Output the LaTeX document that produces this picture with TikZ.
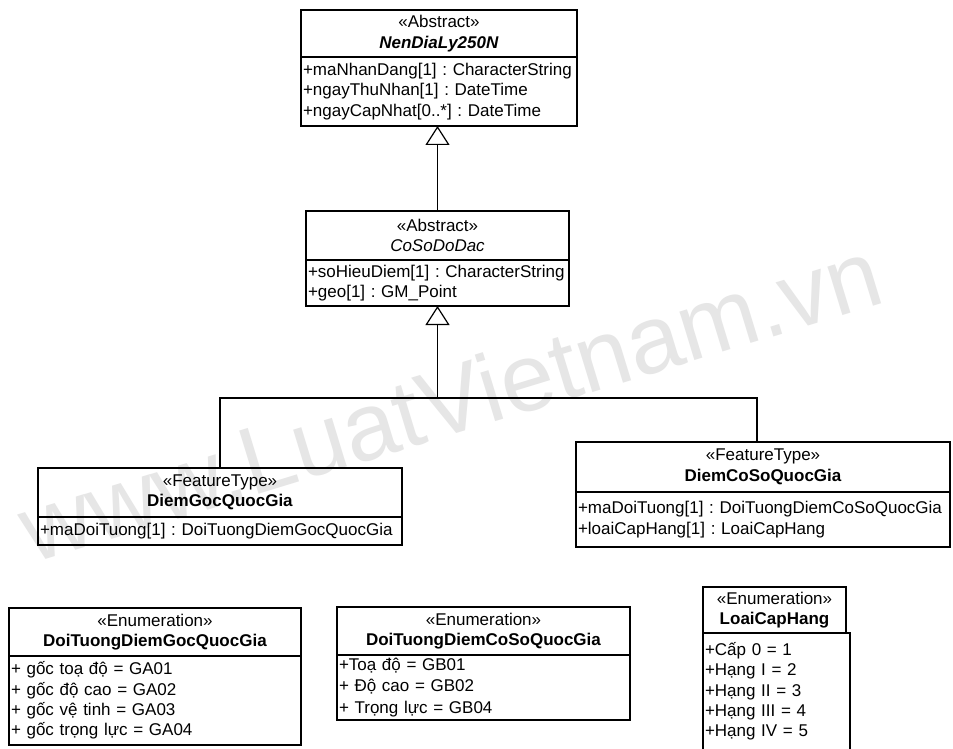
\documentclass[tikz,border=0pt]{standalone}
\usepackage{fontspec}
\setmainfont{Liberation Sans}
\usetikzlibrary{arrows.meta}
\definecolor{wmgray}{RGB}{230,230,230}
\newcommand{\umlfont}{\fontsize{17}{20.4}\selectfont\frenchspacing\hyphenpenalty=10000\exhyphenpenalty=10000\relax}
\newcommand{\umlwidefont}{\fontsize{17}{21.5}\selectfont\frenchspacing\hyphenpenalty=10000\exhyphenpenalty=10000\relax}
\begin{document}
\begin{tikzpicture}[x=1pt,y=-1pt,
  every node/.style={font=\umlfont},
  umlbox/.style={draw, line width=1.3pt, inner ysep=0pt, inner xsep=2pt, outer sep=0pt, anchor=north west},
  hdr/.style={umlbox, align=center},
  attrs/.style={umlbox, align=left},
  conn/.style={line width=1.2pt},
  gen/.style={conn, -{Triangle[open, width=24pt, length=19pt]}},
  watermark/.style={text=wmgray, font=\fontsize{96}{100}\selectfont, rotate=17}
]
\useasboundingbox (0,0) rectangle (953,749);
\fill[white] (0,0) rectangle (953,749);

% background watermark
\node[watermark] (wm) at (450,400) {www.LuatVietnam.vn};

% abstract root class
\node[hdr, minimum width=276pt, minimum height=47pt] (nenH) at (301,10)
  {«Abstract»\\\textbf{\textit{NenDiaLy250N}}};
\node[attrs, minimum width=276pt, minimum height=69pt, text width=272pt] (nenB) at (301,57)
  {+maNhanDang[1] : CharacterString\\+ngayThuNhan[1] : DateTime\\+ngayCapNhat[0..*] : DateTime};

% abstract survey point class
\node[hdr, minimum width=263pt, minimum height=49pt] (cosoH) at (306,211)
  {«Abstract»\\\textit{CoSoDoDac}};
\node[attrs, minimum width=263pt, minimum height=46pt, text width=259pt] (cosoB) at (306,260)
  {+soHieuDiem[1] : CharacterString\\+geo[1] : GM\_Point};

% feature types
\node[hdr, minimum width=364pt, minimum height=49pt] (gocH) at (38,468)
  {«FeatureType»\\\textbf{DiemGocQuocGia}};
\node[attrs, minimum width=364pt, minimum height=28pt, text width=360pt] (gocB) at (38,517)
  {+maDoiTuong[1] : DoiTuongDiemGocQuocGia};

\node[hdr, minimum width=374pt, minimum height=50pt] (csqgH) at (576,442)
  {«FeatureType»\\\textbf{DiemCoSoQuocGia}};
\node[attrs, minimum width=374pt, minimum height=55pt, text width=370pt] (csqgB) at (576,492)
  {+maDoiTuong[1] : DoiTuongDiemCoSoQuocGia\\+loaiCapHang[1] : LoaiCapHang};

% enumerations
\node[hdr, minimum width=292pt, minimum height=48pt] (enumGocH) at (9,608)
  {«Enumeration»\\\textbf{DoiTuongDiemGocQuocGia}};
\node[attrs, minimum width=292pt, minimum height=89pt, text width=288pt] (enumGocB) at (9,656)
  {+ gốc toạ độ = GA01\\+ gốc độ cao = GA02\\+ gốc vệ tinh = GA03\\+ gốc trọng lực = GA04};

\node[hdr, minimum width=293pt, minimum height=48pt] (enumCsH) at (337,607)
  {«Enumeration»\\\textbf{DoiTuongDiemCoSoQuocGia}};
\node[attrs, minimum width=293pt, minimum height=65pt, text width=289pt,
      font=\umlwidefont] (enumCsB) at (337,655)
  {+Toạ độ = GB01\\+ Độ cao = GB02\\+ Trọng lực = GB04};

\node[hdr, minimum width=143pt, minimum height=46pt] (enumCapH) at (703,587)
  {«Enumeration»\\\textbf{LoaiCapHang}};
\node[attrs, minimum width=147pt, minimum height=154pt, text width=143pt] (enumCapB) at (703,633)
  {+Cấp 0 = 1\\+Hạng I = 2\\+Hạng II = 3\\+Hạng III = 4\\+Hạng IV = 5\\\mbox{}\\\mbox{}};

% generalisation links
\draw[gen] (cosoH.north) -- (cosoH.north |- nenB.south);
\coordinate (forkY) at (0,398);
\coordinate (fork) at (cosoB.south |- forkY);
\draw[gen] (fork) -- (cosoB.south);
\draw[conn] (gocH.north) |- (fork) -| ([xshift=-6pt]csqgH.north);
\end{tikzpicture}
\end{document}
